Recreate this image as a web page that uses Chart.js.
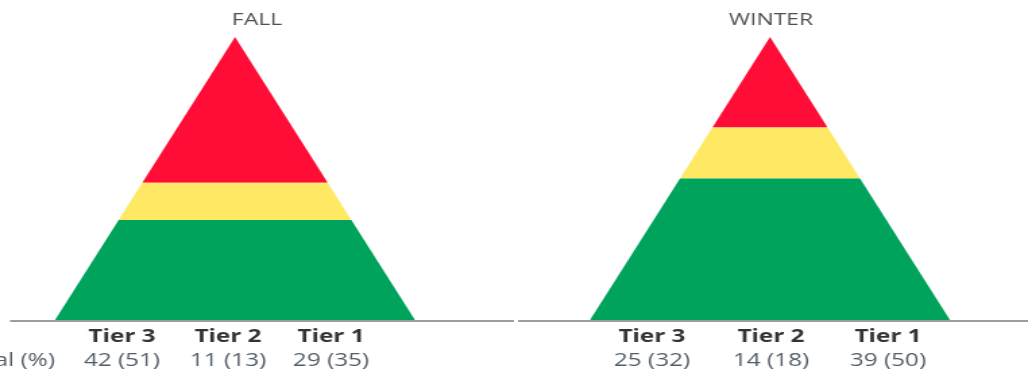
<!DOCTYPE html>
<html>
<head>
<meta charset="utf-8">
<script src="https://cdn.jsdelivr.net/npm/chart.js@4.4.1/dist/chart.umd.min.js"></script>
<style>
  html, body { margin: 0; padding: 0; background: #fff; }
  #wrap { display: flex; width: 1028px; height: 369px; overflow: hidden; }
  canvas { display: block; }
</style>
</head>
<body>
<div id="wrap">
  <canvas id="fallChart" width="381" height="369" style="width:514px;height:369px"></canvas>
  <canvas id="winterChart" width="381" height="369" style="width:514px;height:369px"></canvas>
</div>
<script>
// Tier data, listed top of pyramid first
const tiers = ['Tier 3', 'Tier 2', 'Tier 1'];
const tierColors = ['#ff0d36', '#ffe964', '#00a35c'];
const fallCounts = [42, 11, 29];
const fallPercents = [51, 13, 35];
const winterCounts = [25, 14, 39];
const winterPercents = [32, 18, 50];
const rowHeader = 'Total (%)';

// canvases are drawn narrow and widened by CSS
const STRETCH = 514 / 381;
const px = v => v / STRETCH;

// Builds one trapezoid per tier, stacked from the base (Tier 1) up to the apex
function pyramidLayers(percents) {
  const total = percents.reduce((a, b) => a + b, 0);
  const half = h => 1 - h / total;
  const datasets = [];
  let bottom = 0;
  for (let i = percents.length - 1; i >= 0; i--) {
    const top = bottom + percents[i];
    datasets.push({
      label: tiers[i],
      data: [
        { x: -half(bottom), y: bottom },
        { x: -half(top), y: top },
        { x: half(top), y: top },
        { x: half(bottom), y: bottom }
      ],
      showLine: true,
      fill: { value: bottom },
      backgroundColor: tierColors[i],
      borderColor: 'rgba(0,0,0,0)',
      borderWidth: 0,
      pointRadius: 0
    });
    bottom = top;
  }
  return { datasets, total };
}

// Axis line plus the tier / count table under each pyramid
const tierTable = {
  id: 'tierTable',
  afterDraw(chart, args, opts) {
    const { ctx, chartArea } = chart;
    const base = chartArea.bottom;
    ctx.save();
    ctx.strokeStyle = '#9d9d9d';
    ctx.lineWidth = 2;
    ctx.beginPath();
    ctx.moveTo(px(opts.axisFrom), base + 1);
    ctx.lineTo(px(opts.axisTo), base + 1);
    ctx.stroke();

    ctx.textAlign = 'center';
    ctx.textBaseline = 'alphabetic';
    ctx.font = 'bold 18px "Open Sans"';
    ctx.fillStyle = '#333333';
    tiers.forEach((t, i) => ctx.fillText(t, px(opts.columns[i]), base + 22));

    ctx.font = '18px "Open Sans"';
    ctx.fillStyle = '#535d68';
    opts.counts.forEach((c, i) => {
      ctx.fillText(`${c} (${opts.percents[i]})`, px(opts.columns[i]), base + 46);
    });
    if (opts.header) {
      ctx.textAlign = 'right';
      ctx.fillText(opts.header, px(opts.headerRight), base + 46);
    }
    ctx.restore();
  }
};

function makePyramid(id, title, counts, percents, center, table) {
  const { datasets, total } = pyramidLayers(percents);
  const width = 381;
  const c = px(center);
  const hw = px(180);
  new Chart(document.getElementById(id), {
    type: 'scatter',
    data: { datasets },
    options: {
      responsive: false,
      devicePixelRatio: 1,
      animation: false,
      layout: { padding: { top: 0, bottom: 49, left: 0, right: 0 } },
      scales: {
        x: { display: false, min: -c / hw, max: (width - c) / hw },
        y: { display: false, min: 0, max: total }
      },
      plugins: {
        legend: { display: false },
        tooltip: { enabled: false },
        title: {
          display: true,
          text: title,
          color: '#505050',
          font: { family: '"Open Sans"', size: 17, weight: 'normal' },
          padding: { top: 10, bottom: 6.6 }
        },
        tierTable: Object.assign({ counts, percents }, table)
      }
    },
    plugins: [tierTable]
  });
}

makePyramid('fallChart', 'FALL', fallCounts, fallPercents, 235, {
  columns: [122, 228, 331], header: rowHeader, headerRight: 55, axisFrom: 10, axisTo: 514
});
makePyramid('winterChart', 'WINTER', winterCounts, winterPercents, 256, {
  columns: [138, 257, 374], axisFrom: 4, axisTo: 514
});
</script>
</body>
</html>
